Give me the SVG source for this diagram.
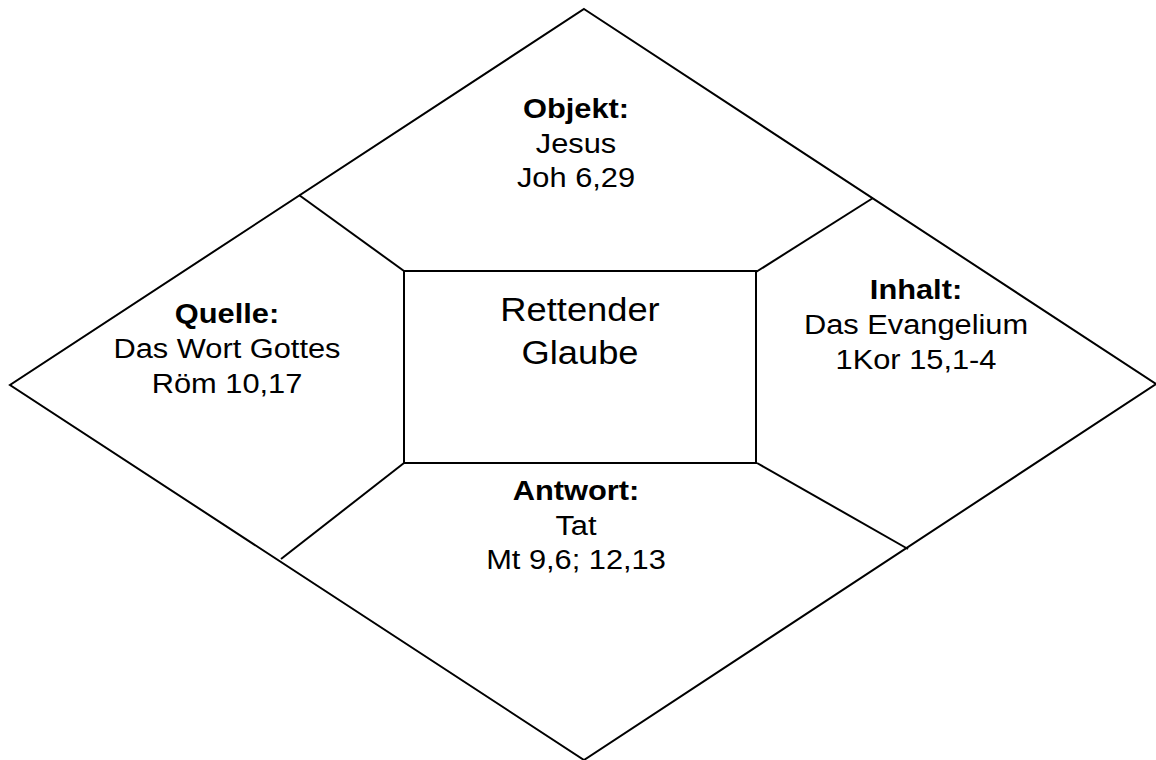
<svg xmlns="http://www.w3.org/2000/svg" width="1156" height="760" viewBox="0 0 1156 760">
<style>
.ln{stroke:#000;stroke-width:2;fill:none;stroke-linejoin:miter}
.t{font-family:"Liberation Sans",Arial,sans-serif;font-size:28px;text-anchor:middle;fill:#000}
.b{font-weight:bold}
.big{font-size:33px}
</style>
<rect width="1156" height="760" fill="#fff"/>
<g id="diamond"><polygon class="ln" points="584,9 1156,384 584,760 10,385"/></g>
<g id="connectors">
<line class="ln" x1="404" y1="271" x2="299" y2="195"/>
<line class="ln" x1="756" y1="272" x2="873" y2="198"/>
<line class="ln" x1="404" y1="463" x2="281" y2="559"/>
<line class="ln" x1="757" y1="463" x2="908" y2="549"/>
</g>
<g id="center">
<rect class="ln" x="404" y="271" width="352" height="192"/>
<g transform="translate(580,0) scale(1.1,1)">
<text class="t big" x="0" y="321">Rettender</text>
<text class="t big" x="0" y="364">Glaube</text>
</g>
</g>
<g id="objekt" transform="translate(576,0) scale(1.1,1)">
<text class="t b" x="0" y="118">Objekt:</text>
<text class="t" x="0" y="153">Jesus</text>
<text class="t" x="0" y="187">Joh 6,29</text>
</g>
<g id="quelle" transform="translate(227,0) scale(1.1,1)">
<text class="t b" x="0" y="323">Quelle:</text>
<text class="t" x="0" y="358">Das Wort Gottes</text>
<text class="t" x="0" y="393">Röm 10,17</text>
</g>
<g id="inhalt" transform="translate(916,0) scale(1.1,1)">
<text class="t b" x="0" y="299">Inhalt:</text>
<text class="t" x="0" y="334">Das Evangelium</text>
<text class="t" x="0" y="369">1Kor 15,1-4</text>
</g>
<g id="antwort" transform="translate(576,0) scale(1.1,1)">
<text class="t b" x="0" y="500">Antwort:</text>
<text class="t" x="0" y="535">Tat</text>
<text class="t" x="0" y="569">Mt 9,6; 12,13</text>
</g>
</svg>
